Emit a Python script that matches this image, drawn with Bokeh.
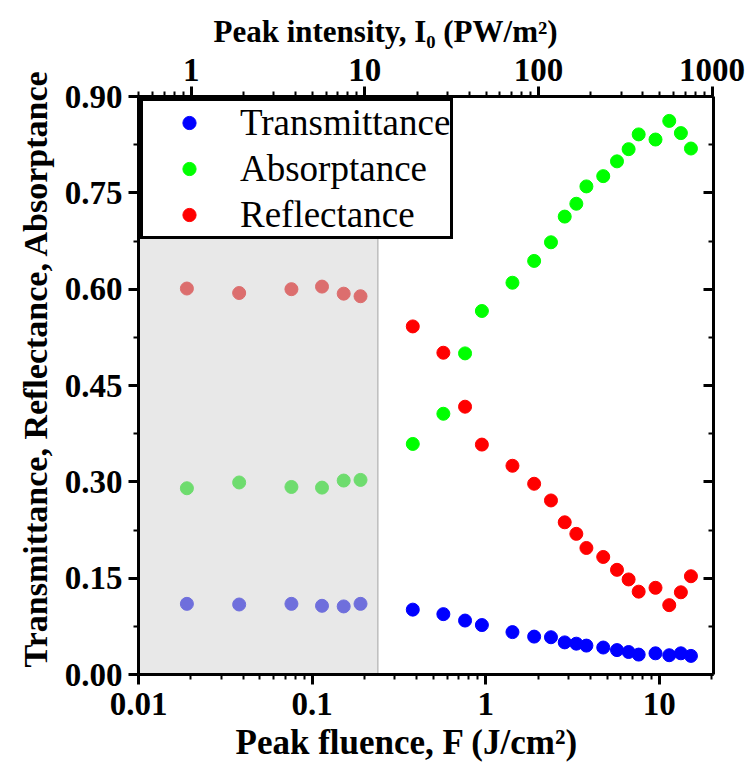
from bokeh.plotting import figure
from bokeh.models import (LogAxis, LinearAxis, Range1d, LogScale, FixedTicker,
                          BoxAnnotation, Legend, LegendItem, CustomJSTickFormatter,
                          PrintfTickFormatter, Title)
from bokeh.embed import file_html
from bokeh.resources import INLINE

# ---------------- data ----------------
# low-fluence regime (shaded region)
F_shaded = [0.019, 0.038, 0.076, 0.114, 0.152, 0.19]
T_shaded = [0.110, 0.109, 0.110, 0.107, 0.106, 0.110]
A_shaded = [0.290, 0.299, 0.292, 0.291, 0.302, 0.303]
R_shaded = [0.601, 0.594, 0.600, 0.604, 0.593, 0.589]

# high-fluence regime
F_main = [0.38, 0.57, 0.76, 0.95, 1.425, 1.9, 2.375, 2.85, 3.325, 3.8,
          4.75, 5.7, 6.65, 7.6, 9.5, 11.4, 13.3, 15.2]
T_main = [0.101, 0.094, 0.084, 0.077, 0.066, 0.059, 0.058, 0.050, 0.048, 0.045,
          0.042, 0.038, 0.035, 0.031, 0.033, 0.030, 0.033, 0.029]
A_main = [0.359, 0.406, 0.500, 0.566, 0.610, 0.644, 0.673, 0.713, 0.733, 0.760,
          0.776, 0.799, 0.818, 0.841, 0.833, 0.862, 0.843, 0.819]
R_main = [0.542, 0.501, 0.417, 0.358, 0.325, 0.297, 0.271, 0.237, 0.219, 0.197,
          0.183, 0.163, 0.148, 0.129, 0.135, 0.108, 0.128, 0.153]

series_labels = ["Transmittance", "Absorptance", "Reflectance"]
x_title = "Peak fluence, F (J/cm\u00b2)"
x2_title = "Peak intensity, I\u2080 (PW/m\u00b2)"
y_title = "Transmittance, Reflectance, Absorptance"

F_range = (0.01, 20.5)          # J/cm^2
I_range = (0.4975, 1020.0)      # PW/m^2 (top axis)
Y_range = (0.0, 0.9)
shaded_F_max = 0.239

F_ticks = [0.01, 0.1, 1, 10]
I_ticks = [1, 10, 100, 1000]
Y_ticks = [0.0, 0.15, 0.30, 0.45, 0.60, 0.75, 0.90]
Y_minor = [0.075, 0.225, 0.375, 0.525, 0.675, 0.825]

# ---------------- styling ----------------
FONT = "'Liberation Serif', 'Times New Roman', 'DejaVu Serif', serif"
TICK_FS = "33px"

def log_minors(lo, hi):
    out = []
    dec = 1e-3
    while dec < hi * 10:
        for k in range(2, 10):
            v = round(k * dec, 6)
            if lo <= v <= hi:
                out.append(v)
        dec *= 10
    return out

p = figure(width=748, height=765, x_axis_type="log",
           x_range=Range1d(*F_range), y_range=Range1d(*Y_range),
           output_backend="svg", toolbar_location=None,
           min_border_left=138, min_border_right=35,
           min_border_top=96, min_border_bottom=90,
           x_axis_location="below", y_axis_location="left")
p.outline_line_color = None
p.xgrid.visible = False
p.ygrid.visible = False
p.background_fill_color = "white"

p.extra_x_ranges = {"I": Range1d(*I_range)}
p.extra_x_scales = {"I": LogScale()}

# shaded region
shade = BoxAnnotation(left=F_range[0], right=shaded_F_max, bottom=Y_range[0],
                      fill_color="#E8E8E8", fill_alpha=1.0,
                      line_color="#BDBDBD", line_width=1.5, line_alpha=1.0,
                      level="underlay")
p.add_layout(shade)

S = 13
p.scatter(F_shaded, T_shaded, size=S, color="#6F6FDC")
p.scatter(F_shaded, A_shaded, size=S, color="#6EDC6E")
p.scatter(F_shaded, R_shaded, size=S, color="#DC6E6E")
rT = p.scatter(F_main, T_main, size=S, color="#0000FF")
rA = p.scatter(F_main, A_main, size=S, color="#00FF00")
rR = p.scatter(F_main, R_main, size=S, color="#FF0000")

def style_axis(ax):
    ax.axis_line_width = 3
    ax.axis_line_color = "black"
    ax.major_tick_line_width = 3
    ax.minor_tick_line_width = 2
    ax.major_tick_line_color = "black"
    ax.minor_tick_line_color = "black"
    ax.major_label_text_font = FONT
    ax.major_label_text_font_style = "bold"
    ax.major_label_text_font_size = TICK_FS
    ax.major_label_text_color = "black"
    ax.major_tick_in = 0
    ax.major_tick_out = 10
    ax.minor_tick_in = 0
    ax.minor_tick_out = 5

# bottom axis
xb = p.xaxis[0]
xb.ticker = FixedTicker(ticks=F_ticks, minor_ticks=log_minors(*F_range))
xb.formatter = CustomJSTickFormatter(code="return tick.toString();")
style_axis(xb)
xb.major_label_standoff = 8

# left axis
yl = p.yaxis[0]
yl.ticker = FixedTicker(ticks=Y_ticks, minor_ticks=Y_minor)
yl.formatter = PrintfTickFormatter(format="%.2f")
style_axis(yl)
yl.major_label_standoff = 6

# top axis
xt = LogAxis(x_range_name="I",
             ticker=FixedTicker(ticks=I_ticks, minor_ticks=log_minors(*I_range)),
             formatter=CustomJSTickFormatter(code="return tick.toString();"))
style_axis(xt)
xt.major_label_standoff = 6
p.add_layout(xt, "above")

# right axis (mirror, ticks inward, no labels)
yr = LinearAxis(ticker=FixedTicker(ticks=Y_ticks, minor_ticks=Y_minor),
                formatter=CustomJSTickFormatter(code="return '';"))
style_axis(yr)
yr.major_tick_in = 10
yr.major_tick_out = 0
yr.minor_tick_in = 5
yr.minor_tick_out = 0
yr.major_label_standoff = 0
p.add_layout(yr, "right")

# axis titles
def make_title(text, size, offset, standoff):
    return Title(text=text, align="left", offset=offset, standoff=standoff,
                 text_font=FONT, text_font_style="bold", text_font_size=size,
                 text_color="black")

p.add_layout(make_title(x_title, "35px", 97, 7), "below")
p.add_layout(make_title(x2_title, "31px", 75, 14), "above")
p.add_layout(make_title(y_title, "34px", 7, 16), "left")

legend = Legend(items=[LegendItem(label=series_labels[0], renderers=[rT]),
                       LegendItem(label=series_labels[1], renderers=[rA]),
                       LegendItem(label=series_labels[2], renderers=[rR])],
                location="top_left")
legend.margin = 2
legend.padding = 0
legend.spacing = 3
legend.glyph_width = 92
legend.glyph_height = 33
legend.label_standoff = 5
legend.label_text_font = FONT
legend.label_text_font_size = "37px"
legend.label_text_color = "black"
legend.border_line_color = "black"
legend.border_line_width = 3
legend.border_line_alpha = 1.0
legend.background_fill_color = "white"
legend.background_fill_alpha = 1.0
p.add_layout(legend)

open("out.html", "w").write(file_html(p, INLINE))
